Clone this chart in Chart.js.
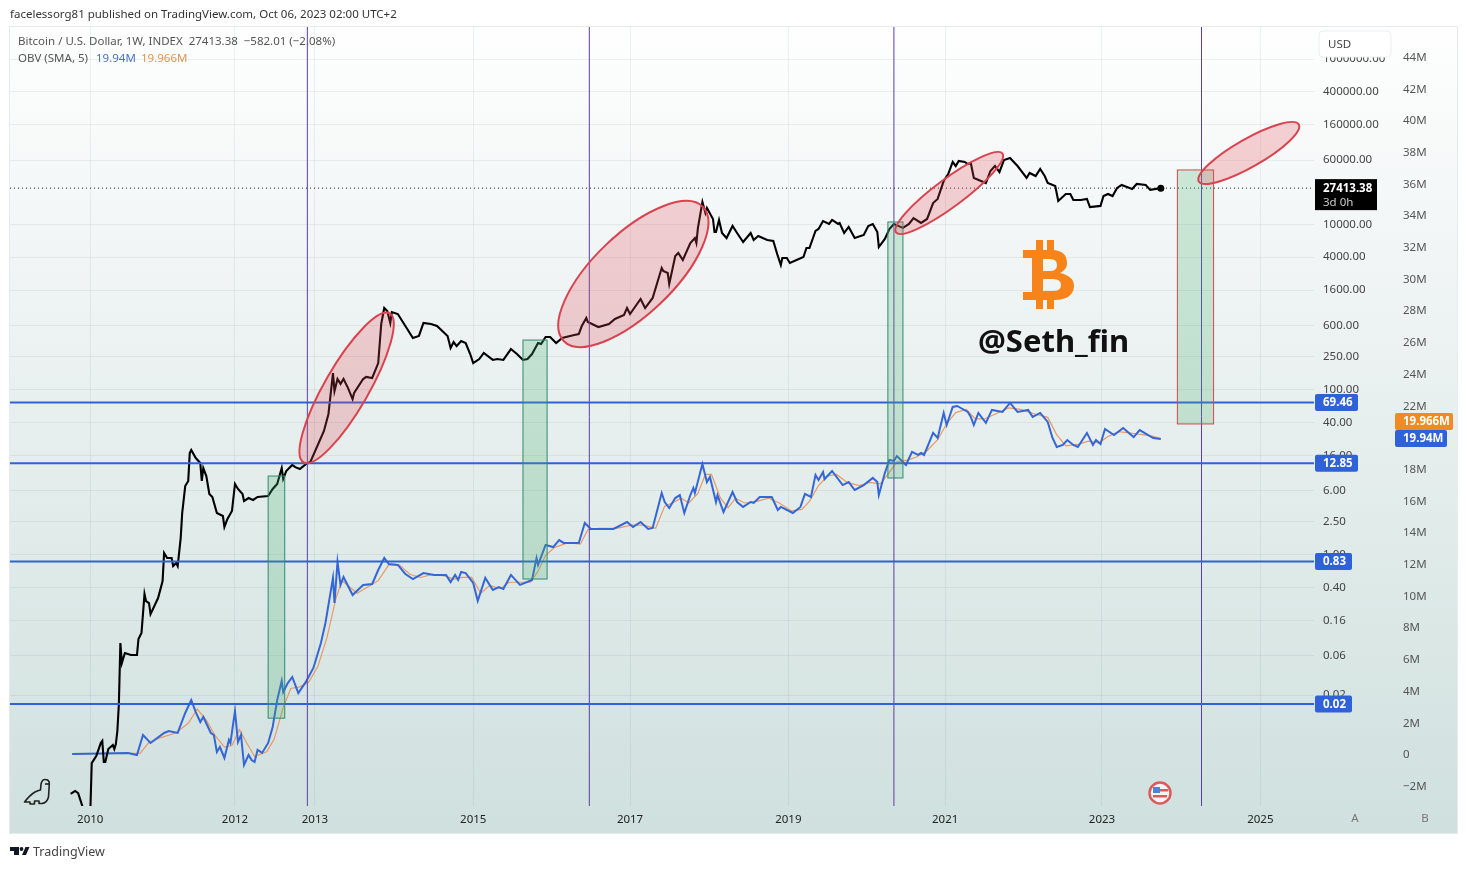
<!DOCTYPE html>
<html lang="en">
<head>
    <meta charset="UTF-8">
    <title>Bitcoin / U.S. Dollar, OBV</title>
    <script src="https://cdn.jsdelivr.net/npm/chart.js"></script>
    <style>
        body { margin: 0; background: #fff; }
        canvas { display: block; }
    </style>
</head>
<body>
    <canvas id="myChart" width="1467" height="869"></canvas>
    <script>
        // weekly bars, x is the bar number
        const xTickBars = [13, 109, 162, 267, 371, 476, 580, 684, 789];
        const xTickLabels = ['2010', '2012', '2013', '2015', '2017', '2019', '2021', '2023', '2025'];
        const priceTicks = [1000000, 400000, 160000, 60000, 10000, 4000, 1600, 600, 250, 100, 40, 16, 6, 2.5, 1, 0.4, 0.16, 0.06, 0.02];
        const obvTicks = [-2, 0, 2, 4, 6, 8, 10, 12, 14, 16, 18, 20, 22, 24, 26, 28, 30, 32, 34, 36, 38, 40, 42, 44];

        const btcBars = [0, 3, 5, 8, 9, 13, 14, 17, 20, 21, 22, 23, 25, 28, 29, 30, 31, 32, 33, 34, 36, 40, 44, 45, 47, 49, 50, 52, 53, 58,
            61, 62, 64, 67, 68, 70, 71, 73, 74, 76, 78, 79, 80, 83, 86, 87, 88, 90, 92, 94, 97, 101, 102, 104, 107, 109, 111, 114, 115, 118,
            121, 124, 131, 134, 137, 140, 141, 143, 147, 149, 152, 156, 159, 168, 171, 174, 175, 177, 179, 181, 184, 187, 188, 194, 196, 200, 204, 206, 208, 210,
            212, 213, 217, 222, 227, 231, 234, 239, 243, 250, 252, 254, 256, 259, 262, 265, 267, 271, 274, 280, 283, 287, 292, 296, 300, 303, 306, 310, 312, 315,
            318, 322, 326, 334, 337, 339, 342, 343, 350, 357, 361, 367, 369, 371, 378, 381, 386, 392, 393, 396, 397, 401, 403, 406, 411, 414, 415, 416, 419, 421,
            422, 426, 427, 428, 430, 432, 435, 439, 442, 446, 451, 453, 456, 462, 466, 469, 471, 472, 475, 477, 486, 488, 490, 494, 496, 499, 503, 505, 509, 510,
            513, 516, 520, 526, 529, 532, 535, 536, 540, 543, 546, 552, 556, 559, 564, 568, 572, 575, 579, 582, 585, 587, 589, 593, 595, 597, 599, 607, 610, 613,
            616, 619, 623, 628, 634, 636, 640, 643, 646, 648, 653, 655, 660, 663, 665, 670, 674, 676, 683, 685, 688, 691, 694, 697, 704, 707, 713, 716, 723];
        const btcPrices = [0.00127, 0.00138, 0.0013, 0.00088, 0.0007, 0.0007, 0.003, 0.00366, 0.00525, 0.00556, 0.0031, 0.0031, 0.00445, 0.00497, 0.00445, 0.0051, 0.00734, 0.0156, 0.0853, 0.0489, 0.0646, 0.061, 0.061, 0.0955, 0.1127, 0.334, 0.275, 0.26, 0.191, 0.299,
            0.481, 1.05, 0.912, 0.912, 0.73, 0.794, 0.73, 1.59, 3.2, 6.79, 7.81, 17, 18.5, 14.8, 12.9, 7.81, 11.2, 8.97, 5.43, 5, 3.2, 2.94, 2.17, 2.71, 3.38, 7.18, 6.25, 5.43, 4.47, 4.86,
            4.6, 5, 5.14, 6.25, 7.18, 11.2, 8.27, 10.3, 12.2, 11.5, 10.9, 12.5, 13.3, 31.5, 50.6, 158, 95.9, 134, 117, 134, 104, 76.7, 90.8, 134, 142, 138, 209, 621, 970, 892,
            639, 867, 820, 587, 421, 445, 639, 621, 587, 445, 318, 376, 336, 387, 365, 269, 209, 234, 277, 228, 234, 228, 309, 269, 228, 234, 269, 365, 355, 432,
            432, 365, 421, 457, 470, 587, 735, 656, 571, 621, 714, 798, 970, 820, 1247, 970, 1282, 2958, 2723, 2570, 1893, 4140, 4500, 3700, 5940, 6820, 5940, 9010, 18600, 13700,
            15800, 11600, 8070, 8070, 11300, 7850, 6820, 9550, 7850, 6110, 7850, 6460, 7230, 6460, 6280, 4140, 3220, 3910, 3910, 3400, 4020, 5170, 5170, 8300, 8780, 10960, 10090, 11300, 10090, 10380,
            7850, 9290, 6820, 7430, 9550, 10090, 8070, 5310, 6640, 8780, 10090, 9040, 10090, 11900, 10380, 11600, 18100, 20300, 33400, 40600, 56800, 50800, 58400, 56800, 53700, 55200, 36400, 31600, 44200, 50800,
            43000, 60100, 63500, 50800, 36400, 41800, 38400, 46800, 38400, 31600, 29100, 19170, 23300, 23300, 19700, 19700, 20300, 16200, 16700, 22000, 23300, 22000, 27600, 29900, 26800, 30800, 29900, 26100, 27413.38];

        const obvBars = [1, 38, 44, 48, 53, 62, 65, 71, 76, 80, 83, 86, 88, 93, 95, 97, 99, 102, 105, 106, 109, 111, 113, 115, 118, 120, 122, 124, 127, 131,
            134, 137, 140, 141, 144, 147, 151, 156, 161, 166, 169, 174, 175, 177, 179, 181, 187, 194, 200, 204, 208, 211, 217, 222, 227, 234, 241, 249, 252, 255,
            257, 259, 262, 267, 270, 275, 280, 284, 287, 292, 298, 306, 309, 310, 315, 320, 324, 327, 337, 341, 345, 360, 369, 373, 378, 383, 386, 392, 394, 397,
            401, 404, 407, 411, 413, 414, 419, 422, 424, 428, 429, 433, 439, 442, 446, 451, 453, 457, 465, 469, 471, 479, 484, 487, 491, 494, 496, 499, 500, 505,
            512, 516, 520, 526, 532, 535, 536, 540, 543, 546, 548, 554, 558, 562, 564, 566, 572, 575, 579, 581, 585, 588, 595, 597, 599, 602, 607, 611, 618, 623,
            628, 635, 638, 643, 648, 651, 654, 658, 661, 665, 668, 674, 678, 680, 683, 686, 692, 698, 705, 709, 718, 723];
        const obvValues = [0.06, 0.13, 0, 1.26, 0.76, 1.39, 1.51, 1.39, 2.65, 3.47, 2.71, 2.08, 2.4, 1.39, 1.26, 0.19, 0.5, -0.19, 0.95, 0.76, 2.78, 0.82, 1.26, -0.63, 0, -0.32, -0.44, 0.32, 0.13, 0.76,
            1.77, 3.47, 4.67, 3.97, 4.54, 4.92, 3.91, 4.61, 5.49, 7.07, 8.33, 11.17, 9.59, 12.18, 10.73, 11.23, 10.09, 10.73, 10.79, 11.67, 12.43, 12.05, 11.99, 11.42, 11.1, 11.48, 11.36, 11.36, 10.91, 11.36,
            11.04, 11.55, 11.48, 10.85, 9.72, 11.17, 10.41, 10.6, 10.47, 11.36, 10.73, 11.04, 12.43, 11.99, 13.25, 13.12, 13.56, 13.38, 13.38, 14.64, 14.26, 14.26, 14.7, 14.38, 14.7, 14.26, 14.32, 16.53, 15.96, 15.58,
            16.21, 16.4, 15.27, 16.4, 16.85, 16.53, 18.36, 17.22, 17.54, 15.96, 16.4, 15.33, 16.59, 15.96, 15.65, 15.96, 15.9, 16.28, 16.28, 15.46, 15.65, 15.27, 15.65, 16.47, 16.28, 17.67, 17.35, 17.85, 17.41, 17.92,
            17.03, 17.22, 16.72, 17.03, 17.48, 17.22, 16.4, 17.79, 18.61, 18.55, 18.86, 18.3, 19.12, 18.93, 19.05, 18.93, 20.32, 20, 21.58, 20.82, 21.96, 22.02, 21.64, 21.33, 20.82, 21.58, 20.95, 21.77, 21.64, 22.21,
            21.64, 21.77, 21.33, 21.58, 21.01, 20.06, 19.43, 19.56, 19.87, 19.56, 19.43, 20.32, 19.56, 19.87, 19.62, 20.57, 20.19, 20.63, 20.06, 20.5, 20, 19.94];

        const smaBars = [2, 38, 46, 52, 60, 70, 78, 84, 90, 96, 102, 107, 112, 116, 122, 130, 135, 141, 146, 152, 158, 164, 170, 176, 180, 185, 190, 197, 204, 211,
            218, 225, 232, 240, 248, 254, 260, 266, 272, 278, 285, 291, 299, 305, 310, 315, 321, 330, 338, 343, 350, 362, 372, 380, 388, 394, 399, 405, 410, 416,
            421, 425, 431, 436, 441, 447, 455, 463, 470, 478, 485, 490, 496, 502, 508, 515, 523, 530, 537, 542, 548, 555, 561, 568, 575, 581, 587, 594, 600, 606,
            613, 622, 630, 640, 648, 654, 660, 668, 675, 682, 688, 695, 704, 712, 718, 723];
        const smaValues = [0.06, 0.1, 0.1, 0.8, 1.1, 1.4, 2, 2.9, 2.2, 1.2, 0.5, 0.6, 1.6, 0.9, -0.1, 0.2, 1, 3, 4.2, 4.3, 4.6, 5.6, 7.4, 9.9, 11, 10.6, 10.2, 10.6, 11, 12,
            12, 11.4, 11.2, 11.4, 11.3, 11.1, 11.2, 11.2, 10.2, 10.7, 10.5, 10.9, 10.9, 10.9, 11.6, 12.6, 13.1, 13.4, 13.3, 14.2, 14.3, 14.3, 14.5, 14.5, 14.3, 15.7, 15.9, 16.2, 15.9, 16.5,
            17.7, 17.7, 16.2, 15.6, 16.2, 15.9, 16, 16.2, 15.9, 15.4, 15.5, 16, 17, 17.6, 17.7, 17.2, 17, 17.2, 17.1, 17.7, 18.5, 18.6, 18.8, 19.2, 19.9, 20.9, 21.6, 21.8, 21.2, 21.2,
            21.5, 21.9, 21.8, 21.5, 21.3, 20.2, 19.5, 19.6, 19.8, 19.7, 20.1, 20.4, 20.3, 20.2, 20.1, 19.966];

        // drawings on the chart
        const levelPrices = [69.46, 12.85, 0.83, 0.0156];
        const levelLabels = ['69.46', '12.85', '0.83', '0.02'];
        const cycleBars = [157, 344, 546, 750];
        const zoneFromBar = [131, 300, 542, 734];
        const zoneToBar = [142, 316, 552, 758];
        const zoneTopPrice = [8.97, 397, 10670, 45500];
        const zoneBottomPrice = [0.0105, 0.508, 8.49, 38.3];
        const ellipseFromBar = [154.5, 327, 547.4, 748.2];
        const ellipseFromPrice = [13.1, 387, 7985, 33000];
        const ellipseToBar = [211.6, 419.4, 618, 814.5];
        const ellipseToPrice = [833, 16200, 71800, 161600];

        const lastPrice = 27413.38;
        const lastBar = 723;
        const lastObv = 19.94;
        const lastSma = 19.966;

        const FONT = '"Noto Sans", sans-serif';
        const BLUE = '#2f62d8';
        const xMin = -40.2, xMax = 824.6;
        const priceMin = 0.000908, priceMax = 2447000;
        const obvMin = -3.218, obvMax = 45.93;

        const zip = (xs, ys) => xs.map((x, i) => ({ x: x, y: ys[i] }));

        function lineSet(data, color, width, axis, extra) {
            return Object.assign({ data: data, borderColor: color, borderWidth: width, yAxisID: axis, pointRadius: 0, tension: 0, fill: false }, extra);
        }

        function text(c, str, x, y, font, color, align) {
            c.font = font;
            c.fillStyle = color;
            c.textAlign = align || 'left';
            c.textBaseline = 'middle';
            c.fillText(str, x, y + 1);
        }

        function tag(c, str, x1, x2, yc, h, bg, font) {
            c.fillStyle = bg;
            c.beginPath();
            c.roundRect(x1, yc - h / 2, x2 - x1, h, 2);
            c.fill();
            text(c, str, x1 + 8, yc - 0.5, font, '#fff');
        }

        function bitcoinLogo(c) {
            c.fillStyle = '#f7841a';
            c.fillRect(1036, 240, 7, 12);
            c.fillRect(1047, 240, 7, 12);
            c.fillRect(1036, 298, 7, 11);
            c.fillRect(1047, 298, 7, 11);
            c.beginPath();
            c.moveTo(1023, 250);
            c.lineTo(1052, 250);
            c.bezierCurveTo(1062, 250, 1067, 255, 1067, 263);
            c.bezierCurveTo(1067, 268, 1064, 271, 1060, 273);
            c.bezierCurveTo(1069, 275, 1074, 279, 1074, 286);
            c.bezierCurveTo(1074, 295, 1066, 300, 1055, 300);
            c.lineTo(1023, 300);
            c.lineTo(1023, 292);
            c.lineTo(1032, 292);
            c.lineTo(1032, 258);
            c.lineTo(1023, 258);
            c.closePath();
            c.moveTo(1043, 259);
            c.lineTo(1050, 259);
            c.quadraticCurveTo(1057, 259, 1057, 265);
            c.quadraticCurveTo(1057, 271, 1050, 271);
            c.lineTo(1043, 271);
            c.closePath();
            c.moveTo(1043, 279);
            c.lineTo(1053, 279);
            c.quadraticCurveTo(1061, 279, 1061, 285);
            c.quadraticCurveTo(1061, 291, 1053, 291);
            c.lineTo(1043, 291);
            c.closePath();
            c.fill('evenodd');
        }

        function dino(c) {
            c.strokeStyle = '#222';
            c.lineWidth = 1.6;
            c.lineJoin = 'round';
            c.beginPath();
            c.moveTo(24.5, 802);
            c.quadraticCurveTo(30, 795, 35, 792);
            c.quadraticCurveTo(38, 790.5, 40.5, 790);
            c.lineTo(41, 784);
            c.quadraticCurveTo(42, 779.5, 45, 779.5);
            c.quadraticCurveTo(49.5, 779.5, 49.3, 784);
            c.lineTo(48.5, 797);
            c.quadraticCurveTo(47, 803, 42, 803.5);
            c.lineTo(39, 803.5);
            c.lineTo(39, 801);
            c.lineTo(34.5, 801);
            c.lineTo(34.5, 804);
            c.lineTo(30, 804);
            c.lineTo(30, 802);
            c.closePath();
            c.stroke();
            c.beginPath();
            c.moveTo(45, 784);
            c.lineTo(49, 784);
            c.stroke();
        }

        const backgroundPlugin = {
            id: 'paneBackground',
            beforeDraw(chart) {
                const c = chart.ctx;
                c.save();
                c.fillStyle = '#fff';
                c.fillRect(0, 0, 1467, 869);
                const g = c.createLinearGradient(0, 27, 0, 833);
                g.addColorStop(0, '#fefefe');
                g.addColorStop(1, '#cfe0de');
                c.fillStyle = g;
                c.fillRect(10, 27, 1447, 806);
                c.strokeStyle = '#e8ebee';
                c.strokeRect(9.5, 26.5, 1448, 807);
                c.restore();
            }
        };

        const drawingsPlugin = {
            id: 'drawings',
            afterDatasetsDraw(chart) {
                const c = chart.ctx, sx = chart.scales.x, sy = chart.scales.y;
                const area = chart.chartArea;
                c.save();
                c.beginPath();
                c.rect(area.left, area.top, area.right - area.left, area.bottom - area.top);
                c.clip();
                zoneFromBar.forEach((bar, i) => {
                    const x1 = sx.getPixelForValue(bar), x2 = sx.getPixelForValue(zoneToBar[i]);
                    const y1 = sy.getPixelForValue(zoneTopPrice[i]), y2 = sy.getPixelForValue(zoneBottomPrice[i]);
                    c.fillStyle = 'rgba(76, 175, 110, 0.25)';
                    c.fillRect(x1, y1, x2 - x1, y2 - y1);
                    c.strokeStyle = i === 3 ? '#cf4b4b' : '#2f8a72';
                    c.lineWidth = 1;
                    c.strokeRect(x1, y1, x2 - x1, y2 - y1);
                });
                const halfWidths = [22, 40, 14, 14];
                ellipseFromBar.forEach((bar, i) => {
                    const x1 = sx.getPixelForValue(bar), y1 = sy.getPixelForValue(ellipseFromPrice[i]);
                    const x2 = sx.getPixelForValue(ellipseToBar[i]), y2 = sy.getPixelForValue(ellipseToPrice[i]);
                    c.beginPath();
                    c.ellipse((x1 + x2) / 2, (y1 + y2) / 2, Math.hypot(x2 - x1, y2 - y1) / 2, halfWidths[i], Math.atan2(y2 - y1, x2 - x1), 0, Math.PI * 2);
                    c.fillStyle = 'rgba(232, 70, 85, 0.24)';
                    c.fill();
                    c.strokeStyle = '#d9434f';
                    c.lineWidth = 2;
                    c.stroke();
                });
                c.restore();
            },
            afterDraw(chart) {
                const c = chart.ctx, sy = chart.scales.y, so = chart.scales.y1;
                const small = '11.5px ' + FONT, bold = 'bold 11.5px ' + FONT;
                c.save();
                // header, legend, footer
                text(c, 'facelessorg81 published on TradingView.com, Oct 06, 2023 02:00 UTC+2', 10, 14, small, '#333');
                text(c, 'Bitcoin / U.S. Dollar, 1W, INDEX  27413.38  \u2212582.01 (\u22122.08%)', 18, 41, small, '#555');
                text(c, 'OBV (SMA, 5)', 18, 58, small, '#555');
                text(c, '19.94M', 96, 58, small, '#4a72c4');
                text(c, '19.966M', 141, 58, small, '#e0944f');
                text(c, 'TradingView', 33, 851, '12.5px ' + FONT, '#444');
                text(c, 'A', 1355, 818, small, '#777', 'center');
                text(c, 'B', 1425, 818, small, '#777', 'center');

                // TradingView logo
                c.fillStyle = '#131722';
                c.fillRect(10, 847, 9, 4);
                c.fillRect(14, 851, 5, 4);
                c.beginPath();
                c.arc(21.5, 849, 1.9, 0, Math.PI * 2);
                c.fill();
                c.beginPath();
                c.moveTo(22, 855);
                c.lineTo(25.5, 847);
                c.lineTo(29.5, 847);
                c.lineTo(26, 855);
                c.fill();

                // currency button
                c.fillStyle = '#fff';
                c.strokeStyle = '#eceef1';
                c.beginPath();
                c.roundRect(1319, 31, 72, 26, 4);
                c.fill();
                c.stroke();
                text(c, 'USD', 1328, 43.5, small, '#444');

                // price tags on the axes
                levelPrices.forEach((p, i) => {
                    tag(c, levelLabels[i], 1315, i < 2 ? 1358 : 1352, sy.getPixelForValue(p), 17, BLUE, bold);
                });
                const yLast = sy.getPixelForValue(lastPrice);
                c.fillStyle = '#000';
                c.fillRect(1315, yLast - 9, 62, 31);
                text(c, '27413.38', 1323, yLast, bold, '#fff');
                text(c, '3d 0h', 1323, yLast + 14, small, '#ccc');
                tag(c, '19.966M', 1395, 1453, so.getPixelForValue(lastSma) - 17, 17, '#f08a24', bold);
                tag(c, '19.94M', 1395, 1447, so.getPixelForValue(lastObv) - 0.5, 17, BLUE, bold);

                // bitcoin logo and signature
                bitcoinLogo(c);
                text(c, '@Seth_fin', 978, 342, 'bold 31px ' + FONT, '#111');

                dino(c);

                // economic events flag
                c.beginPath();
                c.arc(1160, 793, 10.5, 0, Math.PI * 2);
                c.fillStyle = '#f4f4f4';
                c.fill();
                c.strokeStyle = '#dd5a5a';
                c.lineWidth = 2.5;
                c.stroke();
                c.fillStyle = '#4a86d8';
                c.fillRect(1153, 787, 7, 6);
                c.fillStyle = '#dd5a5a';
                c.fillRect(1160, 789, 8, 2.5);
                c.fillRect(1153, 795, 14, 2.5);
                c.restore();
            }
        };

        const ctx = document.getElementById('myChart').getContext('2d');
        new Chart(ctx, {
            type: 'line',
            data: {
                datasets: [
                    lineSet(zip([xMin, xMax], [lastPrice, lastPrice]), '#222', 1, 'y', { borderDash: [1, 3] }),
                    ...levelPrices.map(p => lineSet(zip([xMin, xMax], [p, p]), BLUE, 2, 'y')),
                    ...cycleBars.map(b => lineSet(zip([b, b], [priceMin, priceMax]), '#5a3fa6', 1, 'y')),
                    lineSet(zip(btcBars, btcPrices), '#000', 2.1, 'y', {
                        pointRadius: c => (c.parsed.x === lastBar ? 3.5 : 0),
                        pointBackgroundColor: '#000',
                        pointBorderWidth: 0
                    }),
                    lineSet(zip(obvBars, obvValues), '#3566d6', 2, 'y1'),
                    lineSet(zip(smaBars, smaValues), '#e89a62', 1.2, 'y1')
                ]
            },
            options: {
                responsive: false,
                animation: false,
                events: [],
                layout: { padding: { left: 10, top: 27, right: 10, bottom: 36 } },
                plugins: {
                    legend: { display: false },
                    title: { display: false },
                    tooltip: { enabled: false }
                },
                scales: {
                    x: {
                        type: 'linear',
                        min: xMin,
                        max: xMax,
                        afterFit: s => { s.height = 27; },
                        afterBuildTicks: s => { s.ticks = xTickBars.map(v => ({ value: v })); },
                        grid: { color: 'rgba(90, 120, 120, 0.10)', drawTicks: false },
                        border: { display: false },
                        ticks: {
                            autoSkip: false,
                            maxRotation: 0,
                            padding: 7,
                            color: '#222',
                            font: { family: FONT, size: 11.5 },
                            callback: v => xTickLabels[xTickBars.indexOf(v)]
                        }
                    },
                    y: {
                        type: 'logarithmic',
                        position: 'right',
                        min: priceMin,
                        max: priceMax,
                        afterFit: s => { s.width = 80; },
                        afterBuildTicks: s => { s.ticks = priceTicks.map(v => ({ value: v })); },
                        grid: { color: 'rgba(90, 120, 120, 0.10)', drawTicks: false },
                        border: { display: false },
                        ticks: {
                            autoSkip: false,
                            padding: 9,
                            color: '#444',
                            font: { family: FONT, size: 11.5 },
                            callback: v => v.toFixed(2)
                        }
                    },
                    y1: {
                        type: 'linear',
                        position: 'right',
                        min: obvMin,
                        max: obvMax,
                        afterFit: s => { s.width = 63; },
                        afterBuildTicks: s => { s.ticks = obvTicks.map(v => ({ value: v })); },
                        grid: { display: false, drawTicks: false },
                        border: { display: false },
                        ticks: {
                            autoSkip: false,
                            padding: 9,
                            color: '#555',
                            font: { family: FONT, size: 11.5 },
                            callback: v => (v < 0 ? '\u2212' + (-v) + 'M' : v === 0 ? '0' : v + 'M')
                        }
                    }
                }
            },
            plugins: [backgroundPlugin, drawingsPlugin]
        });
    </script>
</body>
</html>
